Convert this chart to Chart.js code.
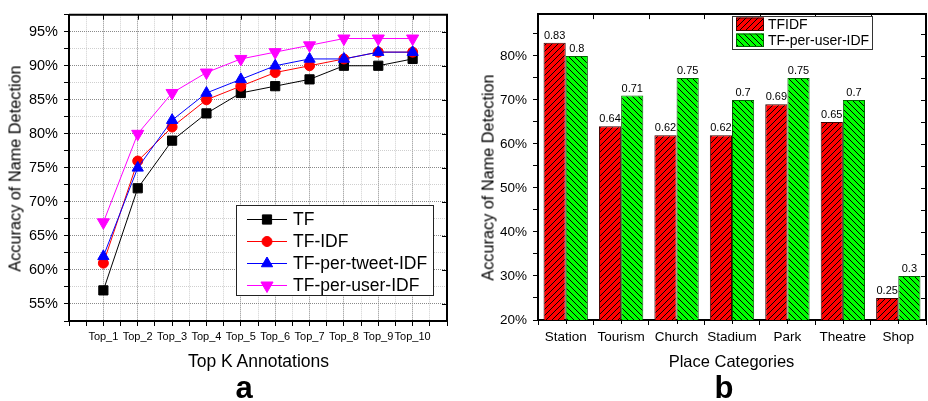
<!DOCTYPE html>
<html>
<head>
<meta charset="utf-8">
<script src="https://cdn.jsdelivr.net/npm/chart.js@4.4.1/dist/chart.umd.min.js"></script>
<style>
  body { margin: 0; background: #fff; }
  #wrap { position: relative; width: 928px; height: 401px; overflow: hidden; background: #fff;
          font-family: "Liberation Sans", Arial, sans-serif; color: #000; }
  canvas { position: absolute; top: 0; }
  .lbl { position: absolute; white-space: nowrap; text-align: center; }
</style>
</head>
<body>
<div id="wrap">
  <canvas id="topKChart" width="464" height="401" style="left:0"></canvas>
  <canvas id="placeChart" width="464" height="401" style="left:464px"></canvas>

  <div class="lbl" style="left:-105px; top:159.5px; width:240px; height:17px; line-height:17px; font-size:16.3px; transform:rotate(-90deg);">Accuracy of Name Detection</div>
  <div class="lbl" style="left:368px; top:168.5px; width:240px; height:17px; line-height:17px; font-size:16.3px; transform:rotate(-90deg);">Accuracy of Name Detection</div>

  <div class="lbl" style="left:108.5px; top:353px; width:300px; line-height:17.5px; font-size:17.5px;">Top K Annotations</div>
  <div class="lbl" style="left:581.5px; top:353px; width:300px; line-height:16.5px; font-size:16.5px;">Place Categories</div>

  <div class="lbl" style="left:214px; top:372px; width:60px; line-height:31px; font-size:31px; font-weight:bold;">a</div>
  <div class="lbl" style="left:694px; top:372px; width:60px; line-height:31px; font-size:31px; font-weight:bold;">b</div>
</div>

<script>
// chart a: accuracy vs top k annotations
const topK = ["Top_1", "Top_2", "Top_3", "Top_4", "Top_5", "Top_6", "Top_7", "Top_8", "Top_9", "Top_10"];
const tf = [57, 72, 79, 83, 86, 87, 88, 90, 90, 91];
const tfIdf = [61, 76, 81, 85, 87, 89, 90, 91, 92, 92];
const tfTweetIdf = [62, 75, 82, 86, 88, 90, 91, 91, 92, 92];
const tfUserIdf = [67, 80, 86, 89, 91, 92, 93, 94, 94, 94];

// chart b: accuracy per place category
const places = ["Station", "Tourism", "Church", "Stadium", "Park", "Theatre", "Shop"];
const tfidfAcc = [0.83, 0.64, 0.62, 0.62, 0.69, 0.65, 0.25];
const userIdfAcc = [0.8, 0.71, 0.75, 0.7, 0.75, 0.7, 0.3];

Chart.defaults.font.family = '"Liberation Sans", Arial, sans-serif';
Chart.defaults.color = "#000";

const FONT = '"Liberation Sans", Arial, sans-serif';

// x positions 1..10 on a linear axis so we get the half-step grid
const toPoints = (vals) => vals.map((v, i) => ({ x: i + 1, y: v }));

function lineSet(label, vals, color, style, radius, rot, order) {
    return {
        label: label,
        data: toPoints(vals),
        borderColor: color,
        backgroundColor: color,
        pointBackgroundColor: color,
        pointBorderColor: color,
        borderWidth: 1,
        pointStyle: style,
        pointRadius: radius,
        pointRotation: rot,
        pointBorderWidth: 1,
        order: order
    };
}

// white box legend, bottom right of plot a
const lineLegend = {
    id: "lineLegend",
    afterDraw(chart) {
        const ctx = chart.ctx;
        ctx.save();
        ctx.fillStyle = "#fff";
        ctx.fillRect(236.5, 205.5, 197, 90);
        ctx.strokeStyle = "#222";
        ctx.lineWidth = 1;
        ctx.strokeRect(236.5, 205.5, 197, 90);
        chart.data.datasets.forEach((ds, i) => {
            const y = 219 + i * 22;
            ctx.strokeStyle = ds.borderColor;
            ctx.beginPath();
            ctx.moveTo(247, y + 0.5);
            ctx.lineTo(287, y + 0.5);
            ctx.stroke();
            ctx.fillStyle = ds.pointBackgroundColor;
            Chart.helpers.drawPoint(ctx, {
                pointStyle: ds.pointStyle, rotation: ds.pointRotation,
                radius: ds.pointRadius, borderWidth: 1
            }, 267, y + 0.5);
            ctx.fillStyle = "#000";
            ctx.font = "17.5px " + FONT;
            ctx.textBaseline = "middle";
            ctx.textAlign = "left";
            ctx.fillText(ds.label, 293, y + 1);
        });
        ctx.restore();
    }
};

// top/right frame with inward ticks
const frameA = {
    id: "frameA",
    afterDraw(chart) {
        const { ctx, chartArea: a, scales } = chart;
        ctx.save();
        ctx.strokeStyle = "#000";
        ctx.lineWidth = 2;
        ctx.beginPath();
        ctx.moveTo(a.left, a.top);
        ctx.lineTo(a.right, a.top);
        ctx.lineTo(a.right, a.bottom);
        ctx.stroke();
        ctx.lineWidth = 1;
        ctx.beginPath();
        scales.x.ticks.forEach(t => {
            if (Number.isInteger(t.value) && t.value > 0 && t.value < 11) {
                const px = Math.round(scales.x.getPixelForValue(t.value)) + 0.5;
                ctx.moveTo(px, a.top);
                ctx.lineTo(px, a.top + 5);
            }
        });
        scales.y.ticks.forEach(t => {
            if (t.value % 5 === 0) {
                const py = Math.round(scales.y.getPixelForValue(t.value)) + 0.5;
                ctx.moveTo(a.right, py);
                ctx.lineTo(a.right - 5, py);
            }
        });
        ctx.stroke();
        ctx.restore();
    }
};

new Chart(document.getElementById("topKChart"), {
    type: "line",
    data: {
        datasets: [
            lineSet("TF", tf, "#000000", "rect", 6.5, 0, 4),
            lineSet("TF-IDF", tfIdf, "#ff0000", "circle", 5, 0, 3),
            lineSet("TF-per-tweet-IDF", tfTweetIdf, "#0000ff", "triangle", 6.5, 0, 2),
            lineSet("TF-per-user-IDF", tfUserIdf, "#ff00ff", "triangle", 7, 180, 1)
        ]
    },
    options: {
        responsive: false,
        animation: false,
        devicePixelRatio: 1,
        layout: { padding: { top: 14, right: 17, left: 0, bottom: 0 } },
        plugins: {
            legend: { display: false },
            tooltip: { enabled: false }
        },
        scales: {
            x: {
                type: "linear",
                min: 0,
                max: 11,
                afterFit: (s) => { s.height = 80; },
                border: {
                    color: "#000", width: 2,
                    dash: (c) => [1, 1]
                },
                grid: {
                    color: (c) => Number.isInteger(c.tick.value) ? "#8a8a8a" : "#cfcfcf",
                    tickColor: "#000",
                    tickLength: 5,
                    tickWidth: 1
                },
                ticks: {
                    stepSize: 0.5,
                    autoSkip: false,
                    maxRotation: 0,
                    padding: 4,
                    font: { size: 11 },
                    callback: (v) => (Number.isInteger(v) && v >= 1 && v <= topK.length) ? topK[v - 1] : ""
                }
            },
            y: {
                min: 52.5,
                max: 97.5,
                afterFit: (s) => { s.width = 69; },
                border: {
                    color: "#000", width: 2,
                    dash: (c) => [1, 1]
                },
                grid: {
                    color: (c) => (c.tick.value % 5 === 0) ? "#8a8a8a" : "#cfcfcf",
                    tickColor: "#000",
                    tickLength: 5,
                    tickWidth: 1
                },
                ticks: {
                    stepSize: 2.5,
                    autoSkip: false,
                    padding: 6,
                    font: { size: 14.5 },
                    callback: (v) => (v % 5 === 0) ? v + "%" : ""
                }
            }
        }
    },
    plugins: [frameA, lineLegend]
});

// hatched fills for the bars
function hatch(bg, forward) {
    const s = 6;
    const c = document.createElement("canvas");
    c.width = s;
    c.height = s;
    const g = c.getContext("2d");
    g.fillStyle = bg;
    g.fillRect(0, 0, s, s);
    g.strokeStyle = "#000";
    g.lineWidth = 1;
    g.beginPath();
    if (forward) {
        g.moveTo(0, s); g.lineTo(s, 0);
        g.moveTo(-1, 1); g.lineTo(1, -1);
        g.moveTo(s - 1, s + 1); g.lineTo(s + 1, s - 1);
    } else {
        g.moveTo(0, 0); g.lineTo(s, s);
        g.moveTo(s - 1, -1); g.lineTo(s + 1, 1);
        g.moveTo(-1, s - 1); g.lineTo(1, s + 1);
    }
    g.stroke();
    return g.createPattern(c, "repeat");
}

const redHatch = hatch("#ff0000", true);
const greenHatch = hatch("#00ff00", false);

// value labels on top of each bar
const barValues = {
    id: "barValues",
    afterDatasetsDraw(chart) {
        const ctx = chart.ctx;
        ctx.save();
        ctx.font = "11px " + FONT;
        ctx.fillStyle = "#000";
        ctx.textAlign = "center";
        ctx.textBaseline = "alphabetic";
        chart.data.datasets.forEach((ds, i) => {
            chart.getDatasetMeta(i).data.forEach((bar, j) => {
                ctx.fillText(String(ds.data[j]), bar.x, bar.y - 4);
            });
        });
        ctx.restore();
    }
};

const barLegend = {
    id: "barLegend",
    afterDraw(chart) {
        const ctx = chart.ctx;
        ctx.save();
        ctx.fillStyle = "#fff";
        ctx.fillRect(268.5, 16.5, 140, 33);
        ctx.strokeStyle = "#333";
        ctx.lineWidth = 1;
        ctx.strokeRect(268.5, 16.5, 140, 33);
        chart.data.datasets.forEach((ds, i) => {
            const top = 17.5 + i * 16;
            ctx.fillStyle = ds.backgroundColor;
            ctx.fillRect(272, top, 28, 13.5);
            ctx.strokeStyle = ds.borderColor;
            ctx.strokeRect(272.5, top + 0.5, 27, 12.5);
            ctx.fillStyle = "#000";
            ctx.font = "14px " + FONT;
            ctx.textBaseline = "middle";
            ctx.textAlign = "left";
            ctx.fillText(ds.label, 304, top + 7.5);
        });
        ctx.restore();
    }
};

const frameB = {
    id: "frameB",
    afterDraw(chart) {
        const { ctx, chartArea: a, scales } = chart;
        ctx.save();
        ctx.strokeStyle = "#000";
        ctx.lineWidth = 2;
        ctx.beginPath();
        ctx.moveTo(a.left, a.top);
        ctx.lineTo(a.right, a.top);
        ctx.lineTo(a.right, a.bottom);
        ctx.stroke();
        ctx.lineWidth = 1;
        ctx.beginPath();
        places.forEach((p, i) => {
            // inward ticks on top at category edges, outward ticks at category centres
            const edge = Math.round(scales.x.getPixelForValue(i + 0.5)) + 0.5;
            if (i < places.length - 1) {
                ctx.moveTo(edge, a.top);
                ctx.lineTo(edge, a.top + 5);
            }
            const mid = Math.round(scales.x.getPixelForValue(i)) + 0.5;
            ctx.moveTo(mid, a.bottom);
            ctx.lineTo(mid, a.bottom + 4);
        });
        scales.y.ticks.forEach(t => {
            const py = Math.round(scales.y.getPixelForValue(t.value)) + 0.5;
            ctx.moveTo(a.right, py);
            ctx.lineTo(a.right - 5, py);
        });
        ctx.stroke();
        ctx.restore();
    }
};

const onStep = (v, n) => Math.abs(v * n - Math.round(v * n)) < 1e-6;

new Chart(document.getElementById("placeChart"), {
    type: "bar",
    data: {
        labels: places,
        datasets: [
            {
                label: "TFIDF",
                data: tfidfAcc,
                backgroundColor: redHatch,
                borderColor: "#400000",
                borderWidth: 1,
                categoryPercentage: 0.8,
                barPercentage: 1.0
            },
            {
                label: "TF-per-user-IDF",
                data: userIdfAcc,
                backgroundColor: greenHatch,
                borderColor: "#006400",
                borderWidth: 1,
                categoryPercentage: 0.8,
                barPercentage: 1.0
            }
        ]
    },
    options: {
        responsive: false,
        animation: false,
        devicePixelRatio: 1,
        layout: { padding: { top: 4, right: 2, left: 0, bottom: 0 } },
        plugins: {
            legend: { display: false },
            tooltip: { enabled: false }
        },
        scales: {
            x: {
                afterFit: (s) => { s.height = 81; },
                border: { color: "#000", width: 2 },
                grid: {
                    offset: true,
                    drawOnChartArea: false,
                    tickColor: "#000",
                    tickLength: 5
                },
                ticks: {
                    padding: 4,
                    maxRotation: 0,
                    autoSkip: false,
                    font: { size: 13.5 }
                }
            },
            y: {
                min: 0.2,
                max: 0.895,
                afterFit: (s) => { s.width = 74; },
                afterBuildTicks: (s) => { s.ticks = s.ticks.filter(t => onStep(t.value, 20)); },
                border: { color: "#000", width: 2 },
                grid: {
                    drawOnChartArea: false,
                    tickColor: "#000",
                    tickLength: 5
                },
                ticks: {
                    stepSize: 0.05,
                    autoSkip: false,
                    padding: 6,
                    font: { size: 13.5 },
                    callback: (v) => onStep(v, 10) ? Math.round(v * 100) + "%" : ""
                }
            }
        }
    },
    plugins: [frameB, barValues, barLegend]
});
</script>
</body>
</html>
